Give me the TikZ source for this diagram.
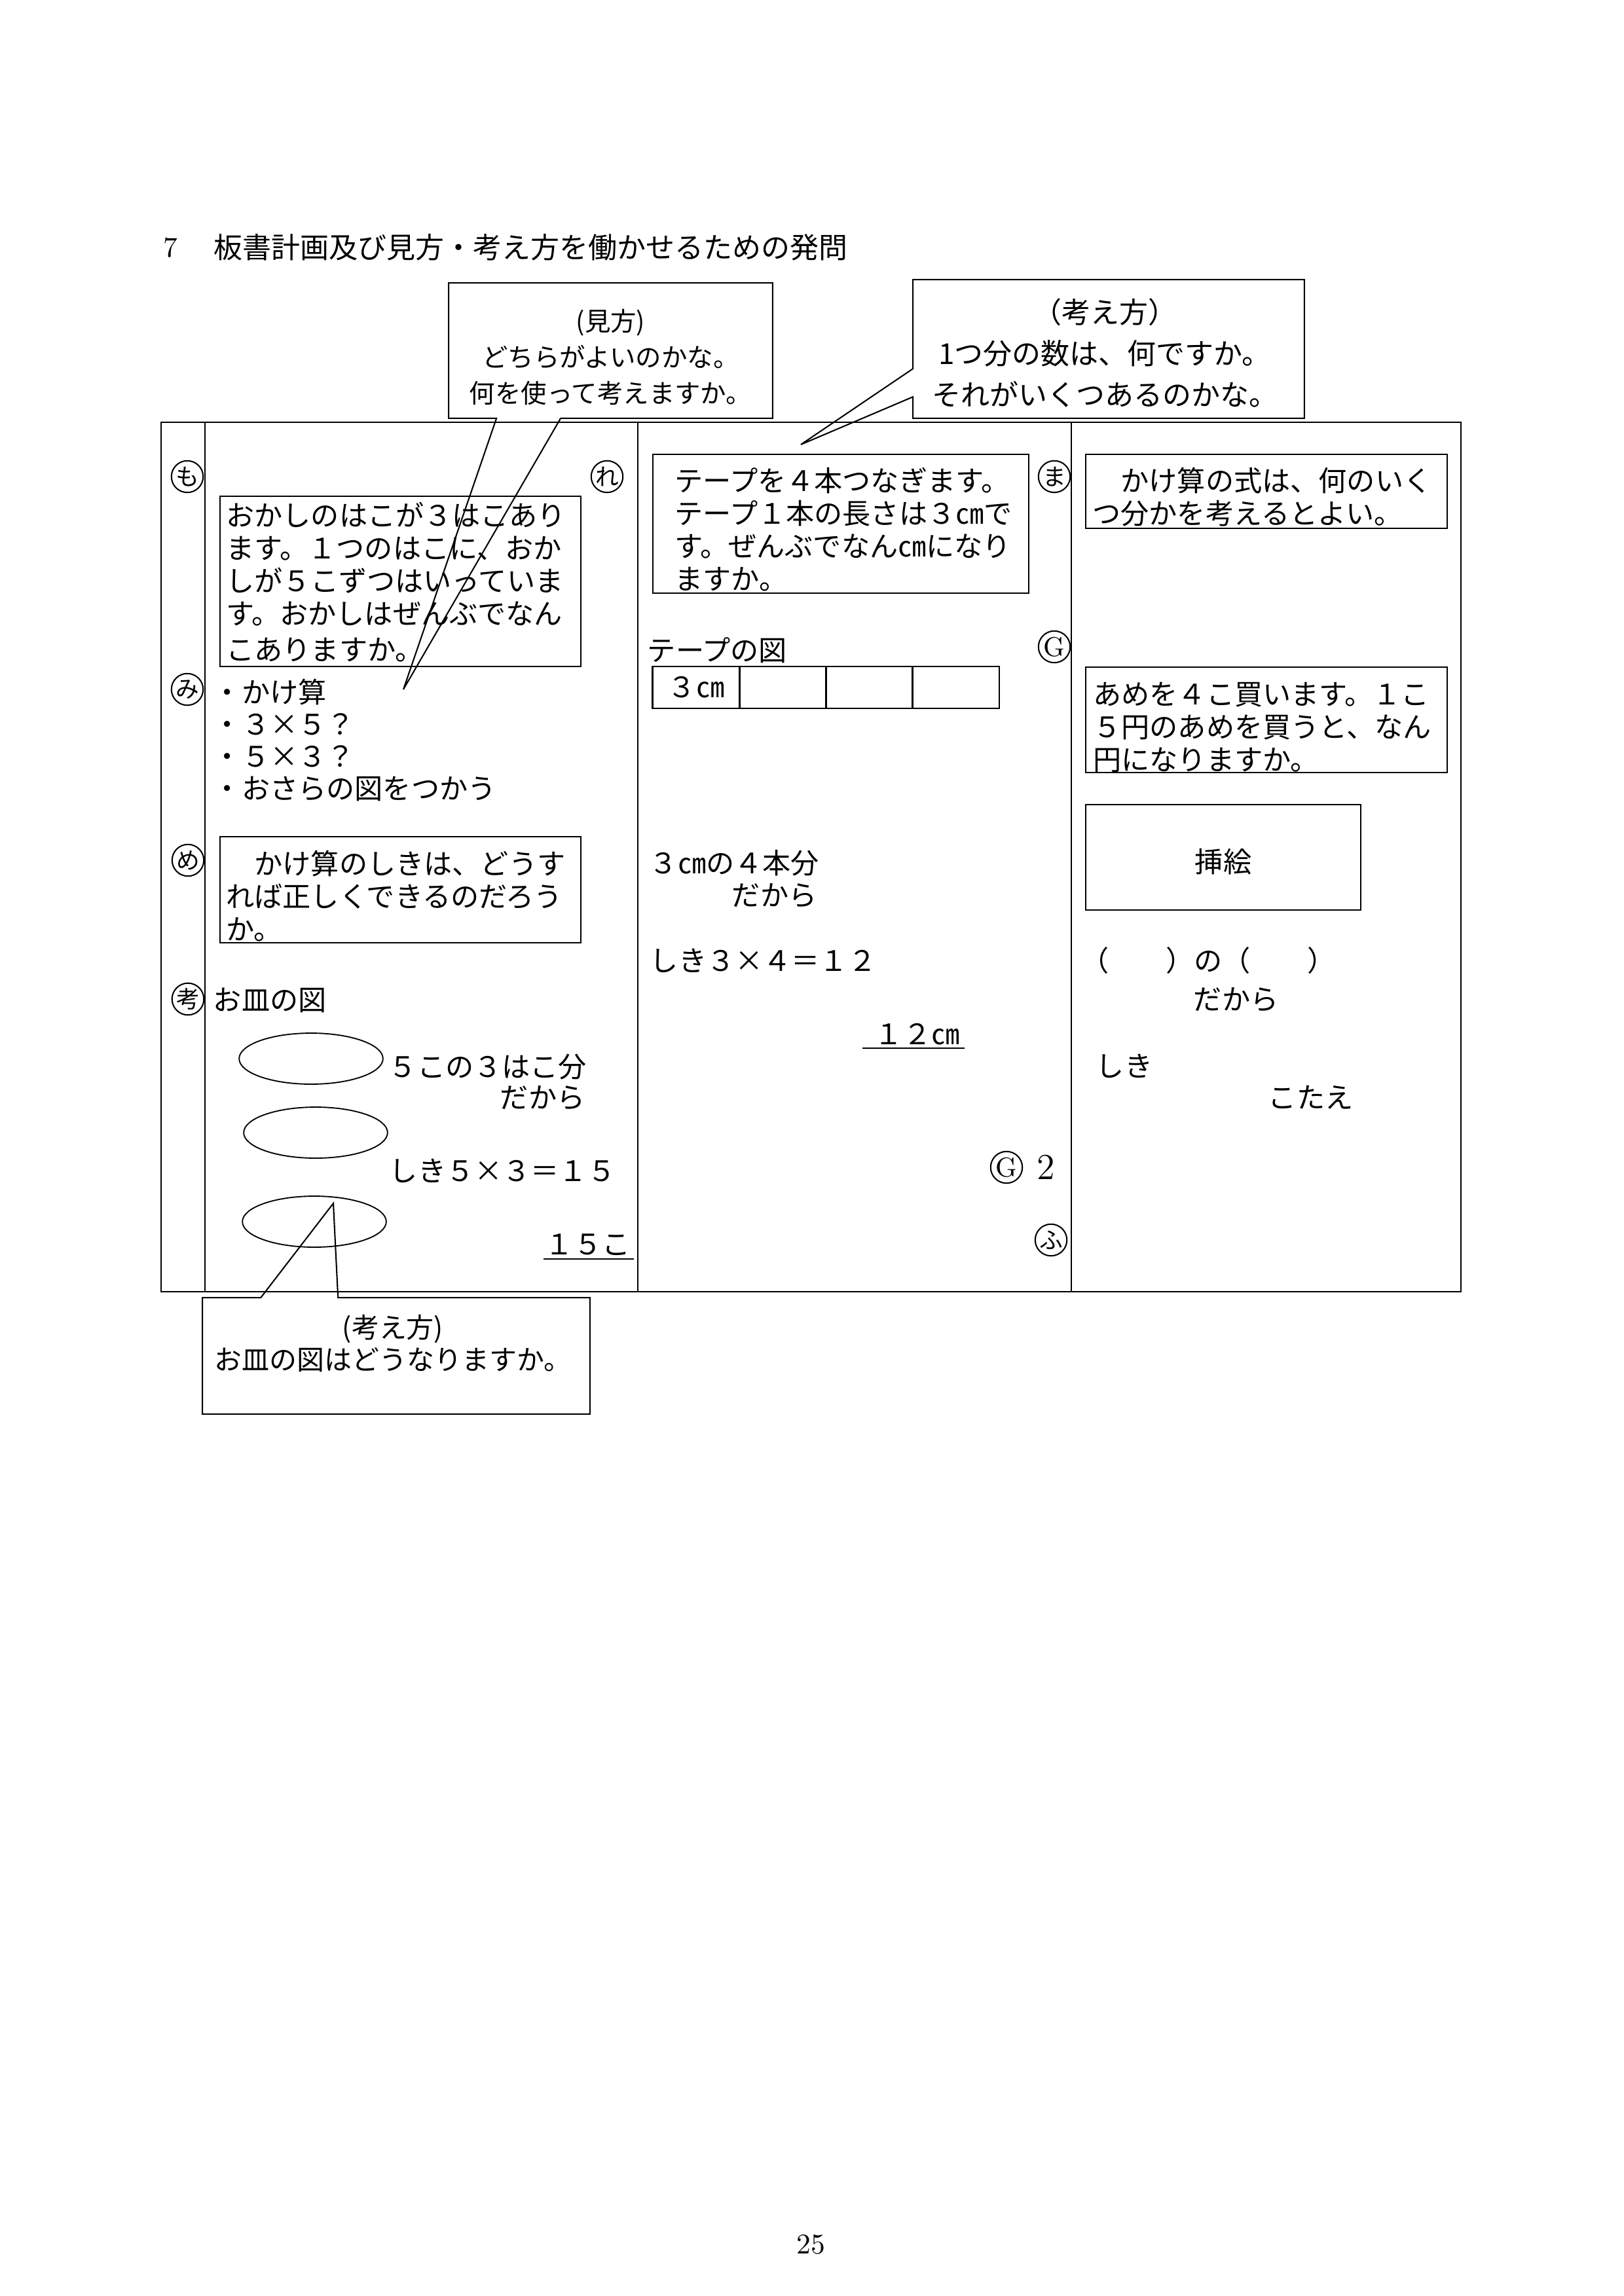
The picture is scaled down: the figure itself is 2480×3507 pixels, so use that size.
\documentclass[tikz,border=0pt]{standalone}
\usepackage{fontspec}
\newfontfamily\jp{Noto Sans CJK JP}
\usetikzlibrary{positioning,fit,calc,shapes.geometric}

\newcommand{\honbun}{\jp\fontsize{10.4pt}{12pt}\selectfont}
\newcommand{\fkA}{\jp\fontsize{9.5pt}{13.2pt}\selectfont}
\newcommand{\fkB}{\jp\fontsize{10.6pt}{15.2pt}\selectfont}
\newcommand{\fkC}{\jp\fontsize{10.1pt}{12pt}\selectfont}

\tikzset{
  board/.style={line width=0.7pt},
  qbox/.style={draw, line width=0.7pt, inner sep=0pt},
  qtext/.style={inner sep=0pt, anchor=north west, align=left, font=\honbun},
  txt/.style={inner sep=0pt, anchor=west, font=\honbun},
  maru/.style={draw, circle, line width=0.5pt, inner sep=0pt, minimum size=4.1mm,
    font=\jp\fontsize{8.6pt}{9pt}\selectfont},
  cobox/.style={inner sep=0pt},
  cotext/.style={inner sep=0pt, align=center},
  coline/.style={line width=0.5pt},
  sara/.style={draw, ellipse, line width=0.45pt, minimum width=18.6mm, minimum height=6.6mm},
  cell/.style={draw, line width=0.7pt, inner sep=0pt, outer sep=0pt,
    minimum width=11.2mm, minimum height=5.42mm, font=\honbun},
  uline/.style={line width=0.5pt}
}

\begin{document}
\begin{tikzpicture}[x=0.084677mm, y=-0.084677mm]
\useasboundingbox (0,0) rectangle (2480,3507);

% title
\node (ttlNo) [inner sep=0pt, anchor=west, font=\fontsize{10.5pt}{12pt}\selectfont] at (249,378) {7};
\node (ttl) [txt, font=\jp\fontsize{10.6pt}{12pt}\selectfont] at (326,378) {板書計画及び見方・考え方を働かせるための発問};

% board
\draw[board] (246,645) rectangle (2231,1973);
\foreach \x in {313,974,1636}
  \draw[board] (\x,645) -- (\x,1973);

% circled marks
\foreach \m/\x/\y [count=\i] in {も/286/728, れ/927/728, み/286/1053, め/287/1314, 考/287/1526, ま/1610/728, ふ/1605/1894}
  \node (maru\i) [maru] at (\x,\y) {\m};
\node (gA) [maru, font=\fontsize{10pt}{10pt}\selectfont] at (1610,988) {G};
\node (gB) [maru, font=\fontsize{10pt}{10pt}\selectfont] at (1537,1783) {G};
\node (gBno) [inner sep=0pt, font=\fontsize{13.5pt}{14pt}\selectfont] at (1597,1783) {2};

% left column
\node (moQ) [qbox, fit={(336,758) (887,1018)}] {};
\node (moQt) [qtext] at ($(moQ.north west)+(10,10)$) {おかしのはこが３はこあり\\ます。１つのはこに、おか\\しが５こずつはいっていま\\す。おかしはぜんぶでなん\\[1.2pt]こありますか。};
\foreach \t [count=\i] in {かけ算, ３×５？, ５×３？, おさらの図をつかう}
  \node (mi\i) [txt] at (325,{1057+49.3*(\i-1)}) {・\t};
\node (meQ) [qbox, fit={(336,1278) (887,1440)}] {};
\node (meQt) [qtext] at ($(meQ.north west)+(10,22)$) {　かけ算のしきは、どうす\\れば正しくできるのだろう\\か。};
\node (saraT) [txt] at (325,1528) {お皿の図};
\foreach \cx/\cy [count=\i] in {475/1617, 482/1730, 480/1866}
  \node (sara\i) [sara] at (\cx,\cy) {};
\node (saraA) [txt] at (593,1630) {５この３はこ分};
\node (saraB) [txt] at (763,1677) {だから};
\node (saraS) [txt] at (594,1788) {しき５×３＝１５};
\node (ans15) [txt] at (832,1901) {１５こ};
\draw[uline] ($(ans15.south west)+(-2,5)$) -- ($(ans15.south east)+(5,5)$);

% middle column
\node (reQ) [qbox, fit={(997,694) (1571,906)}] {};
\node (reQt) [qtext] at ($(reQ.north west)+(34,21)$) {テープを４本つなぎます。\\テープ１本の長さは３㎝で\\す。ぜんぶでなん㎝になり\\ますか。};
\node (tapeT) [txt] at (988,993) {テープの図};
\node (tape1) [cell] at (1063,1050) {３㎝};
\foreach \i [count=\j from 2] in {1,2,3}
  \node (tape\j) [cell, right=0pt of tape\i] {};
\node (tapeA) [txt] at (991,1318) {３㎝の４本分};
\node (tapeB) [txt] at (1117,1368) {だから};
\node (tapeS) [txt] at (992,1467) {しき３×４＝１２};
\node (ans12) [txt] at (1335,1580) {１２㎝};
\draw[uline] ($(ans12.south west)+(-18,4)$) -- ($(ans12.south east)+(7,4)$);

% right column
\node (maQ) [qbox, fit={(1658,694) (2210,807)}] {};
\node (maQt) [qtext] at ($(maQ.north west)+(11,21)$) {　かけ算の式は、何のいく\\つ分かを考えるとよい。};
\node (ameQ) [qbox, fit={(1658,1019) (2210,1180)}] {};
\node (ameQt) [qtext] at ($(ameQ.north west)+(12,24)$) {あめを４こ買います。１こ\\５円のあめを買うと、なん\\円になりますか。};
\node (sashie) [qbox, fit={(1658,1229) (2078,1390)}] {};
\node (sashieT) [inner sep=0pt, font=\honbun] at ($(sashie.center)+(0,7)$) {挿絵};
\node (ameA) [txt] at (1650,1467) {（　　）の（　　）};
\node (ameB) [txt] at (1822,1527) {だから};
\node (ameS) [txt] at (1673,1628) {しき};
\node (ameC) [txt] at (1936,1676) {こたえ};

% callouts
\node (mkBox) [cobox, fit={(686,433) (1179,638)}] {};
\node (mkTxt) [cotext, font=\fkA] at ($(mkBox.center)+(0,10)$) {(見方)\\どちらがよいのかな。\\何を使って考えますか。};
\coordinate (mkTip) at (616,1053);
\draw[coline] ($(mkBox.south west)+(73,0)$) -- (mkBox.south west) -- (mkBox.north west)
  -- (mkBox.north east) -- (mkBox.south east) -- ($(mkBox.south west)+(171,0)$) -- (mkTip) -- cycle;

\node (kgBox) [cobox, fit={(1395,428) (1991,638)}] {};
\node (kgTxt) [cotext, font=\fkB] at ($(kgBox.center)+(-6,6)$) {（考え方）\\1つ分の数は、何ですか。\\それがいくつあるのかな。};
\coordinate (kgTip) at (1223,679);
\draw[coline] ($(kgBox.north west)+(0,136)$) -- (kgBox.north west) -- (kgBox.north east)
  -- (kgBox.south east) -- (kgBox.south west) -- ($(kgBox.north west)+(0,179)$) -- (kgTip) -- cycle;

\node (srBox) [cobox, fit={(310,1983) (900,2159)}] {};
\node (srTxt) [cotext, font=\fkC] at ($(srBox.center)+(-5,-19)$) {(考え方)\\お皿の図はどうなりますか。};
\coordinate (srTip) at (509,1838);
\draw[coline] ($(srBox.north west)+(89,0)$) -- (srBox.north west) -- (srBox.south west)
  -- (srBox.south east) -- (srBox.north east) -- ($(srBox.north west)+(207,0)$) -- (srTip) -- cycle;

% page number
\node (pno) [inner sep=0pt, font=\fontsize{10.5pt}{12pt}\selectfont] at (1238,3428) {25};
\end{tikzpicture}
\end{document}
